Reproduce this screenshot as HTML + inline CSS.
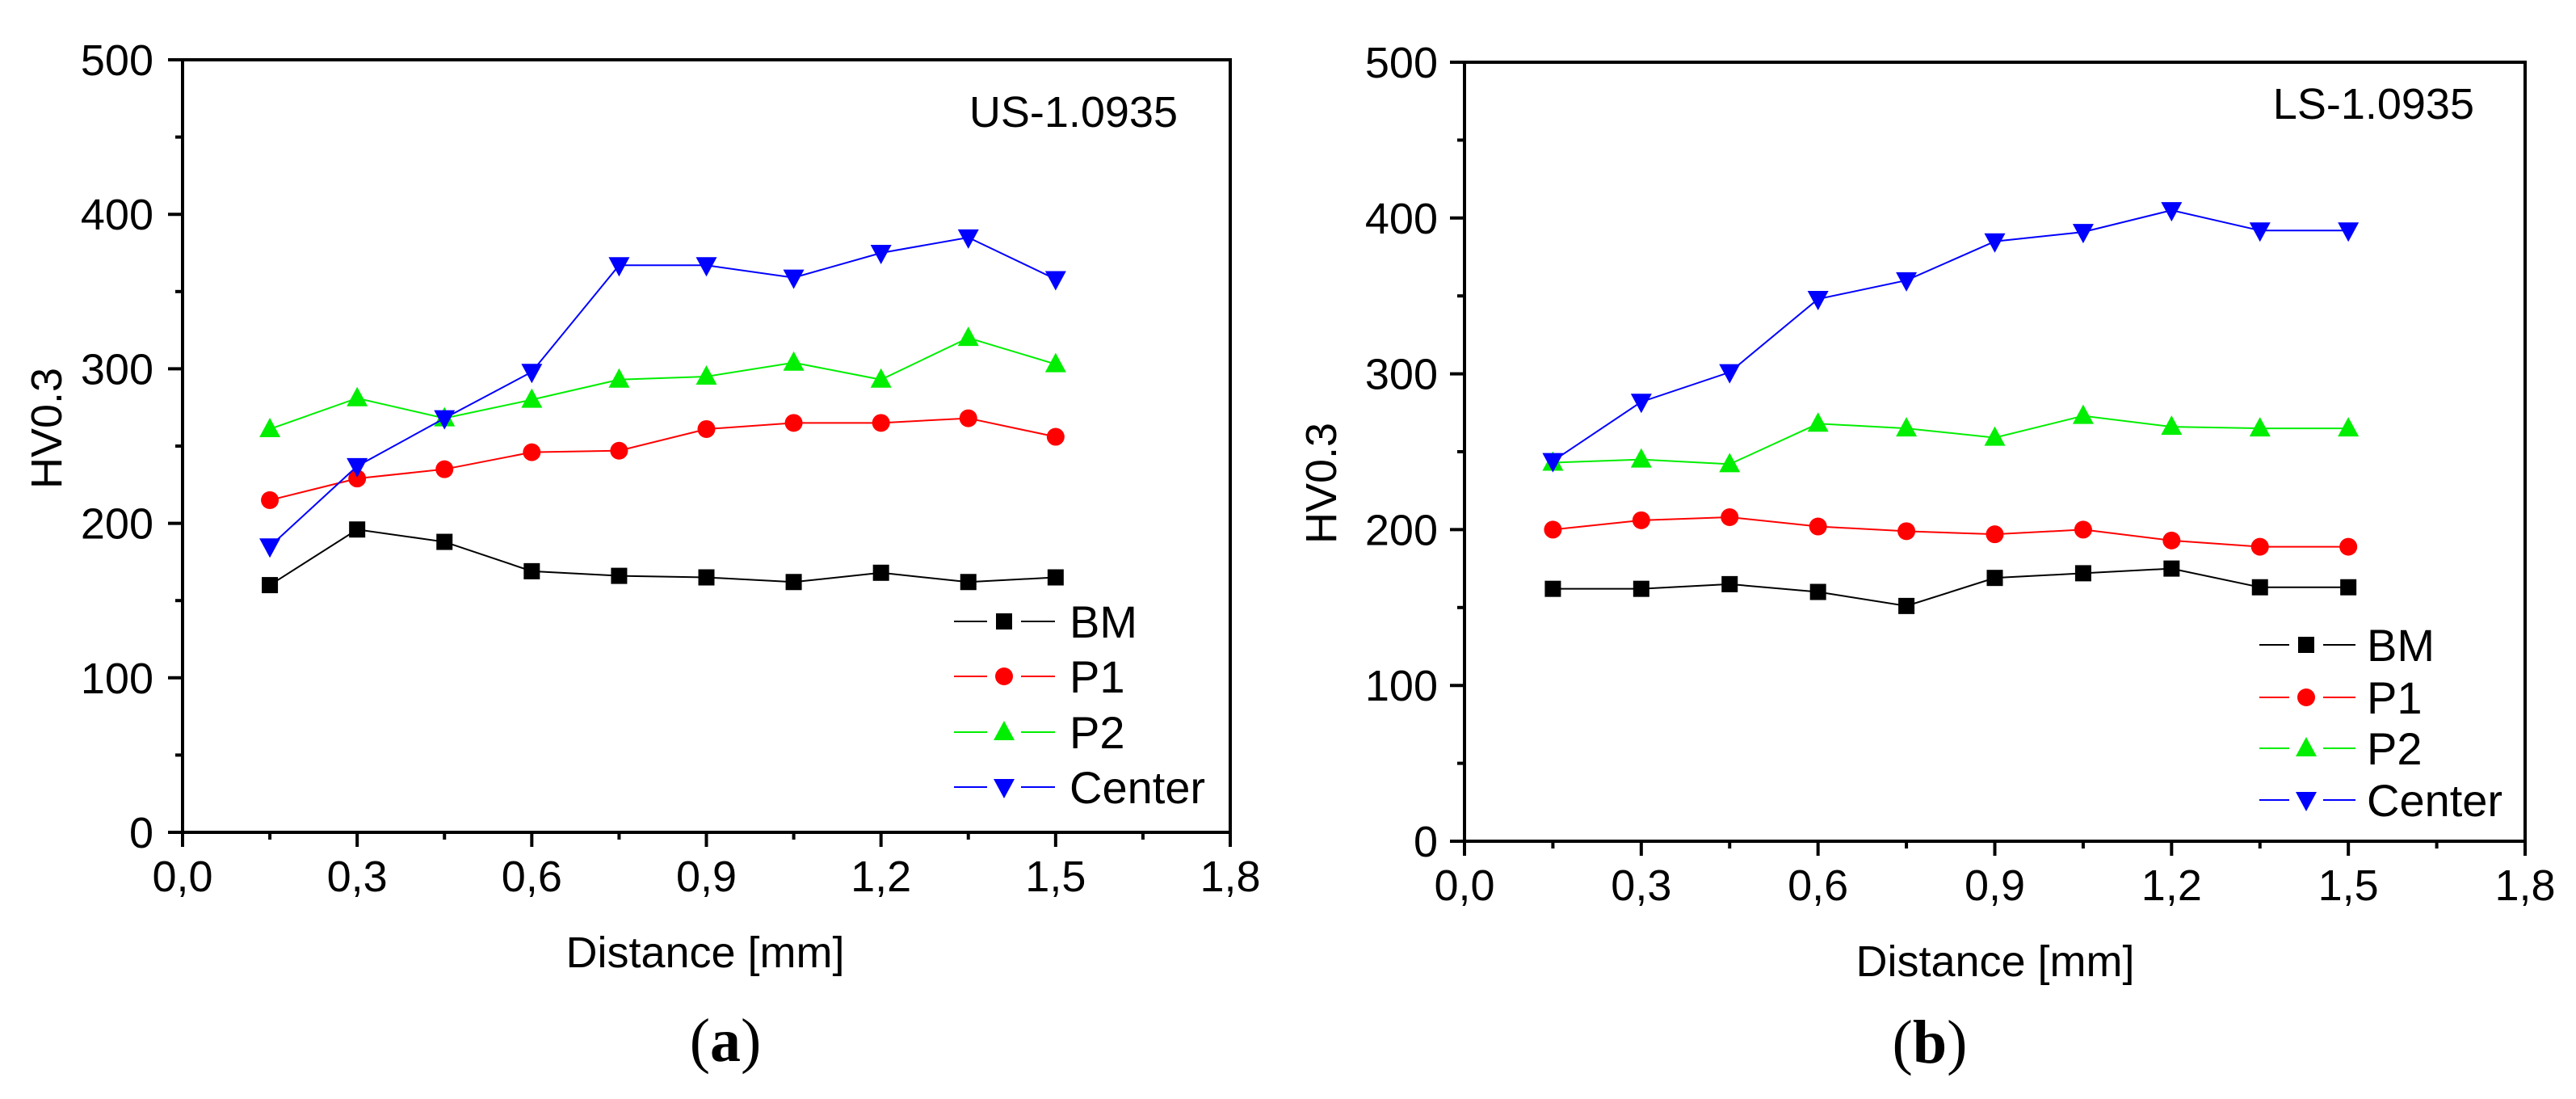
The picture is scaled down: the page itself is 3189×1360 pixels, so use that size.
<!DOCTYPE html>
<html><head><meta charset="utf-8"><style>
html,body{margin:0;padding:0;background:#fff;}
svg{display:block;}
text{font-family:"Liberation Sans",sans-serif;fill:#000;}
text.cap{font-family:"Liberation Serif",serif;}
</style></head><body>
<svg id="svg" width="3189" height="1360" viewBox="0 0 3189 1360" xmlns="http://www.w3.org/2000/svg"></svg>
<script>
const xValues=[0.15,0.3,0.45,0.6,0.75,0.9,1.05,1.2,1.35,1.5];
const xTickLabels=["0,0","0,3","0,6","0,9","1,2","1,5","1,8"];
const xTicks=[0,0.3,0.6,0.9,1.2,1.5,1.8];
const yTicks=[0,100,200,300,400,500];
const seriesNames=["BM","P1","P2","Center"];
const seriesColors=["#000000","#ff0000","#00ee00","#0000ff"];
const aBM=[160,196,188,169,166,165,162,168,162,165];
const aP1=[215,229,235,246,247,261,265,265,268,256];
const aP2=[261,281,268,280,293,295,304,293,320,303];
const aCenter=[185,237,268,298,367,367,359,375,385,358];
const bBM=[162,162,165,160,151,169,172,175,163,163];
const bP1=[200,206,208,202,199,197,200,193,189,189];
const bP2=[243,245,242,268,265,259,273,266,265,265];
const bCenter=[244,282,301,348,360,385,391,405,392,392];

const NS="http://www.w3.org/2000/svg";
const svg=document.getElementById('svg');
function el(tag,attrs,parent,txt){const e=document.createElementNS(NS,tag);for(const k in attrs)e.setAttribute(k,attrs[k]);if(txt!==undefined)e.textContent=txt;(parent||svg).appendChild(e);return e;}

function marker(g,kind,cx,cy,color){
  let m;
  if(kind===0){m=el('rect',{x:cx-10,y:cy-10,width:20,height:20,fill:color},g);}
  else if(kind===1){m=el('circle',{cx:cx,cy:cy,r:11,fill:color},g);}
  else if(kind===2){m=el('polygon',{points:`${cx},${cy-14} ${cx-13},${cy+10} ${cx+13},${cy+10}`,fill:color},g);}
  else {m=el('polygon',{points:`${cx},${cy+14} ${cx-13},${cy-10} ${cx+13},${cy-10}`,fill:color},g);}
  return m;
}

function drawPanel(cfg){
  const g=el('g',{});
  
  
  const X=v=>cfg.x0+(v-0)/(1.8-0)*(cfg.x1-cfg.x0);
  const Y=v=>cfg.y1-(v-0)/(500-0)*(cfg.y1-cfg.y0);
  const fr=el('rect',{x:cfg.x0,y:cfg.y0,width:cfg.x1-cfg.x0,height:cfg.y1-cfg.y0,fill:'none',stroke:'#000','stroke-width':4},g);
  
  
  xTicks.forEach((t,i)=>{
    const x=X(t);
    el('line',{x1:x,y1:cfg.y1,x2:x,y2:cfg.y1+18,stroke:'#000','stroke-width':4},g);
    if(i<xTicks.length-1){const xm=X(t+0.15);el('line',{x1:xm,y1:cfg.y1,x2:xm,y2:cfg.y1+9,stroke:'#000','stroke-width':4},g);}
    const tl=el('text',{x:x,y:cfg.y1+73,'font-size':54,'text-anchor':'middle'},g,xTickLabels[i]);
    
    
  });
  yTicks.forEach((t,i)=>{
    const y=Y(t);
    el('line',{x1:cfg.x0,y1:y,x2:cfg.x0-18,y2:y,stroke:'#000','stroke-width':4},g);
    if(i<yTicks.length-1){const ym=Y(t+50);el('line',{x1:cfg.x0,y1:ym,x2:cfg.x0-9,y2:ym,stroke:'#000','stroke-width':4},g);}
    const tl=el('text',{x:cfg.labRight,y:y+19,'font-size':54,'text-anchor':'end'},g,String(t));
    
    
  });
  const yt=el('text',{x:0,y:0,'font-size':54,'text-anchor':'middle',transform:`translate(${cfg.ytx},${cfg.yty}) rotate(-90)`},g,'HV0.3');
  
  
  const xt=el('text',{x:cfg.xtx,y:cfg.xty,'font-size':54,'text-anchor':'middle'},g,'Distance [mm]');
  
  
  const lab=el('text',{x:cfg.labelX,y:cfg.labelY,'font-size':54,'text-anchor':'end'},g,cfg.label);
  
  
  const cap=el('text',{x:cfg.capX,y:cfg.capY,'font-size':76,'text-anchor':'middle','class':'cap',style:'font-family:"Liberation Serif",serif'},g);
  
  
  el('tspan',{},cap,'(');el('tspan',{'font-weight':'bold'},cap,cfg.cap);el('tspan',{},cap,')');
  cfg.series.forEach((vals,si)=>{
    const sg=el('g',{},g);
    
    
    const pts=vals.map((v,i)=>X(xValues[i])+','+Y(v)).join(' ');
    const pl=el('polyline',{points:pts,fill:'none',stroke:seriesColors[si],'stroke-width':2},sg);
    
    
    vals.forEach((v,i)=>{
      const m=marker(sg,si,X(xValues[i]),Y(v),seriesColors[si]);
      
      
    });
  });
  const lg=el('g',{},g);
  
  
  seriesNames.forEach((n,si)=>{
    const ly=cfg.legY[si];
    const eg=el('g',{},lg);
    
    
    el('line',{x1:cfg.legX0,y1:ly,x2:cfg.legM-21,y2:ly,stroke:seriesColors[si],'stroke-width':2},eg);
    el('line',{x1:cfg.legM+21,y1:ly,x2:cfg.legX1,y2:ly,stroke:seriesColors[si],'stroke-width':2},eg);
    marker(eg,si,cfg.legM,ly,seriesColors[si]);
    el('text',{x:cfg.legT,y:ly+20,'font-size':56},eg,n);
  });
}

drawPanel({name:'panel-a',x0:226,x1:1523,y0:74,y1:1030,labRight:190,ytx:76,yty:530,xtx:873,xty:1197,
  label:'US-1.0935',labelX:1458,labelY:157,cap:'a',capX:898,capY:1313,
  series:[aBM,aP1,aP2,aCenter],legY:[769,837,906,974],legX0:1181,legX1:1306,legM:1243,legT:1324});
drawPanel({name:'panel-b',x0:1813,x1:3126,y0:77,y1:1041,labRight:1780,ytx:1654,yty:598,xtx:2470,xty:1208,
  label:'LS-1.0935',labelX:3063,labelY:147,cap:'b',capX:2389,capY:1315,
  series:[bBM,bP1,bP2,bCenter],legY:[798,863,926,990],legX0:2797,legX1:2916,legM:2855,legT:2930});
</script>
</body></html>
